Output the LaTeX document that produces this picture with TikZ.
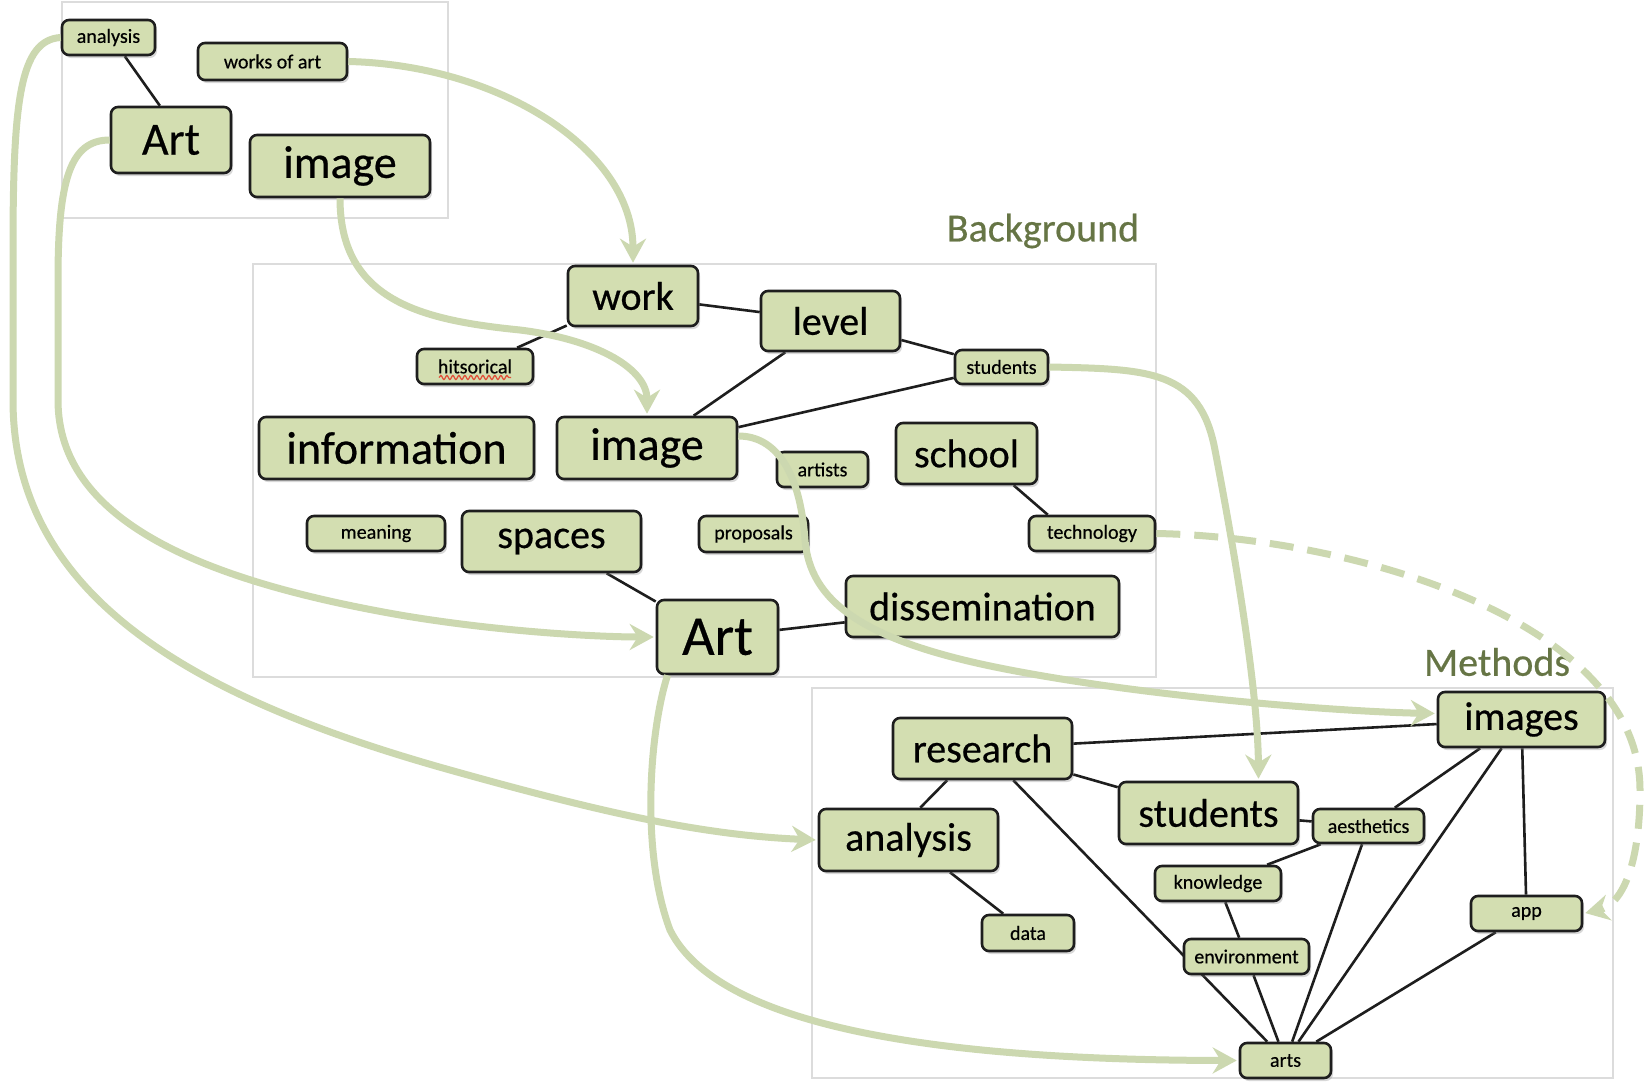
\documentclass[tikz,border=0pt]{standalone}
\usepackage{fontspec}
\setmainfont{Carlito}
\newfontfamily\conceptfont{Carlito}[FakeBold=0.5]
\usetikzlibrary{arrows.meta,shadows,decorations.pathmorphing,calc}
\definecolor{nodefill}{HTML}{D3DEB1}
\definecolor{arrowgreen}{HTML}{CCD8B0}
\definecolor{labelgreen}{HTML}{667545}
\definecolor{framegray}{HTML}{DCDCDC}
\definecolor{edgeblack}{HTML}{1E1E1E}
\definecolor{spellred}{HTML}{E0503A}
\pgfdeclarelayer{background}
\pgfsetlayers{background,main}
\tikzset{
  concept/.style={draw=edgeblack, line width=2.6pt, fill=nodefill, rounded corners=7pt,
    inner sep=0pt, drop shadow={opacity=0.3, shadow xshift=2pt, shadow yshift=-3pt}},
  box/.style 2 args={minimum width=#1pt, minimum height=#2pt},
  bigc/.style={concept, font=\conceptfont\fontsize{40}{48}\selectfont},
  hugec/.style={concept, font=\conceptfont\fontsize{46}{54}\selectfont},
  giantc/.style={concept, font=\conceptfont\fontsize{56}{64}\selectfont},
  smallc/.style={concept, font=\conceptfont\fontsize{20}{24}\selectfont},
  link/.style={draw=edgeblack, line width=2.6pt},
  flow/.style={draw=arrowgreen, line width=7pt, shorten >=2pt,
    -{Stealth[length=24pt,width=26pt,inset=8pt]}},
  dashflow/.style={flow, dash pattern=on 24pt off 14pt},
  framebox/.style={draw=framegray, line width=1.2pt},
  section/.style={text=labelgreen, font=\conceptfont\fontsize{40}{48}\selectfont}
}
\begin{document}
\begin{tikzpicture}[x=1pt,y=-1pt]
\useasboundingbox (0,0) rectangle (1646,1082);

% top group
\node[smallc, box={93}{35}] (analysisA) at (108.5,37.5) {analysis};
\node[smallc, box={149}{37}] (worksofart) at (272.5,61.5) {works of art};
\node[hugec, box={120}{66}] (artA) at (171,140) {Art};
\node[hugec, box={180}{62}] (imageA) at (340,166) {image};

% background group
\node[section] (bglabel) at (1043,231) {Background};
\node[bigc, box={130}{60}] (work) at (633,296) {work};
\node[bigc, box={139}{60}] (level) at (830.5,321) {level};
\node[smallc, box={116}{35}] (hitsorical) at (475,366.5) {hitsorical};
\node[smallc, box={93}{34}] (studentsS) at (1001.5,367) {students};
\node[hugec, box={275}{62}] (information) at (396.5,448) {information};
\node[hugec, box={180}{62}] (imageB) at (647,448) {image};
\node[smallc, box={91}{35}] (artists) at (822.5,469.5) {artists};
\node[bigc, box={141}{61}] (school) at (966.5,453.5) {school};
\node[smallc, box={138}{35}] (meaning) at (376,533.5) {meaning};
\node[bigc, box={179}{61}] (spaces) at (551.5,541.5) {spaces};
\node[smallc, box={109}{36}] (proposals) at (753.5,534) {proposals};
\node[smallc, box={126}{35}] (technology) at (1092,533.5) {technology};
\node[giantc, box={121}{74}] (artB) at (717.5,637) {Art};
\node[bigc, box={273}{61}] (dissemination) at (982.5,606.5) {dissemination};

% methods group
\node[section] (mlabel) at (1497,662) {Methods};
\node[bigc, box={179}{61}] (research) at (982.5,748.5) {research};
\node[bigc, box={167}{55}] (images) at (1521.5,719.5) {images};
\node[bigc, box={179}{62}] (studentsB) at (1208.5,813) {students};
\node[bigc, box={179}{62}] (analysisB) at (908.5,840) {analysis};
\node[smallc, box={111}{34}] (aesthetics) at (1368.5,826) {aesthetics};
\node[smallc, box={126}{35}] (knowledge) at (1218,883.5) {knowledge};
\node[smallc, box={92}{36}] (data) at (1028,933) {data};
\node[smallc, box={111}{35}] (app) at (1526.5,913.5) {app};
\node[smallc, box={125}{35}] (environment) at (1246.5,956.5) {environment};
\node[smallc, box={91}{35}] (arts) at (1285.5,1060.5) {arts};

% spelling underline
\draw[spellred, line width=1.3pt, decorate, decoration={snake, amplitude=2pt, segment length=6pt}]
  ($(hitsorical.center)+(-36,11)$) -- ($(hitsorical.center)+(36,11)$);

\begin{pgfonlayer}{background}
\fill[white] (0,0) rectangle (1646,1082);
\draw[framebox] (62,2) rectangle (448,218);
\draw[framebox] (253,264) rectangle (1156,677);
\draw[framebox] (812,688) rectangle (1613,1078);

\draw[link] (analysisA.311) -- (artA.108);
\draw[link] (work) -- (level);
\draw[link] (work) -- (hitsorical);
\draw[link] (level) -- (studentsS);
\draw[link] (level) -- (imageB);
\draw[link] (imageB) -- (studentsS);
\draw[link] (school.326) -- (technology.157);
\draw[link] (spaces) -- (artB);
\draw[link] (artB) -- (dissemination);

\draw[link] (research) -- (images);
\draw[link] (research) -- (studentsB);
\draw[link] (research.222) -- (analysisB.70);
\draw[link] (research) -- (arts);
\draw[link] (analysisB) -- (data);
\draw[link] (studentsB) -- (aesthetics);
\draw[link] (aesthetics) -- (knowledge);
\draw[link] (aesthetics) -- (arts);
\draw[link] (images) -- (aesthetics);
\draw[link] (images) -- (arts);
\draw[link] (images) -- (app);
\draw[link] (knowledge) -- (environment);
\draw[link] (environment) -- (arts);
\draw[link] (app) -- (arts);
\end{pgfonlayer}

% green flow arrows
\draw[flow] (worksofart.east) .. controls (500,65) and (633,150) .. (work.north);
\draw[flow] (imageA.south) .. controls (340,300) and (420,320) .. (520,330)
  .. controls (600,340) and (647,370) .. (imageB.north);
\draw[flow] (analysisA.west) .. controls (20,40) and (13,100) .. (13,250) -- (13,400)
  .. controls (13,600) and (200,700) .. (450,770)
  .. controls (600,812) and (700,835) .. (analysisB.west);
\draw[flow] (artA.west) .. controls (70,140) and (58,180) .. (58,280) -- (58,400)
  .. controls (58,520) and (200,580) .. (400,615)
  .. controls (500,632) and (600,637) .. (artB.west);
\draw[flow] (studentsS.east) .. controls (1150,369) and (1200,370) .. (1215,450)
  .. controls (1240,580) and (1258,700) .. ([xshift=50pt]studentsB.north);
\draw[flow] ([yshift=12pt]imageB.east) .. controls (775,436) and (800,470) .. (805,540)
  .. controls (810,600) and (860,640) .. (1000,668)
  .. controls (1150,698) and (1350,712) .. ([yshift=6pt]images.west);
\draw[flow] ([xshift=-50pt]artB.south) .. controls (650,730) and (640,850) .. (670,930)
  .. controls (720,1030) and (950,1060) .. (arts.west);
\draw[dashflow] (technology.east) .. controls (1350,537) and (1640,620) .. (1640,790)
  .. controls (1640,870) and (1620,905) .. (app.east);
\end{tikzpicture}
\end{document}
